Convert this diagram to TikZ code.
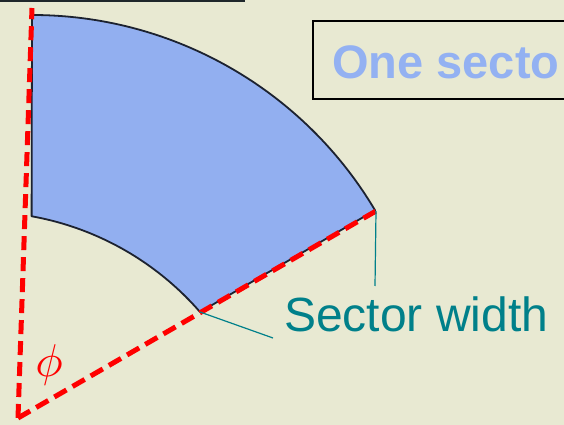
\documentclass[tikz,border=0pt]{standalone}
\usepackage{fontspec}
\setmainfont{Liberation Sans}
\definecolor{bgcol}{HTML}{E8E9D2}
\definecolor{sectorblue}{HTML}{92AFF0}
\definecolor{outlinecol}{HTML}{1C2230}
\definecolor{titleblue}{HTML}{93B1F2}
\definecolor{tealcol}{HTML}{00808A}
\definecolor{redcol}{HTML}{FF0000}
\definecolor{toplinecol}{HTML}{1F272B}
\tikzset{
  reddash/.style={draw=redcol, line width=5pt, dash pattern=on 14pt off 7pt},
  tealline/.style={draw=tealcol, line width=1.2pt},
  sectorshape/.style={fill=sectorblue, draw=outlinecol, line width=1.8pt, line join=round},
}
\begin{document}
\begin{tikzpicture}[x=1pt,y=1pt]
\useasboundingbox (0,0) rectangle (564,425);
\fill[bgcol] (0,0) rectangle (564,425);
\begin{scope}
\clip (0,0) rectangle (564,425);
% top rule
\coordinate (ruleL) at (0,424);
\coordinate (ruleR) at (245,424);
\draw[toplinecol, line width=2.4pt] (ruleL) -- (ruleR);
% title box
\draw[black, line width=1.8pt] (313,326) rectangle (590,404);
\node[anchor=base west, text=titleblue, font=\bfseries\fontsize{47}{52}\selectfont, inner sep=0pt] (title) at (332,346) {One secto};
% sector
\coordinate (apex) at (18,7);
\coordinate (topend) at (32,417);
\coordinate (tip) at (376,214);
\coordinate (inner) at (200,113);
\path[sectorshape] (32,410) arc[start angle=90, end angle=30.7, radius=399] -- (inner)
  arc[start angle=40.96, end angle=79.8, radius=291.3] -- cycle;
% red dashed lines
\draw[reddash] (apex) -- (topend);
\draw[reddash] (apex) -- (tip);
% phi
\node[text=redcol, scale=4.6, inner sep=0pt] (phi) at (49,60) {$\phi$};
% sector width label
\node[anchor=base west, text=tealcol, font=\fontsize{48}{53}\selectfont, inner sep=0pt] (sw) at (284,93) {Sector width};
\coordinate (swA) at (375,139);
\coordinate (swB) at (273,87);
\draw[tealline] (tip) -- (swA);
\draw[tealline] (inner) -- (swB);
\end{scope}
\end{tikzpicture}
\end{document}
